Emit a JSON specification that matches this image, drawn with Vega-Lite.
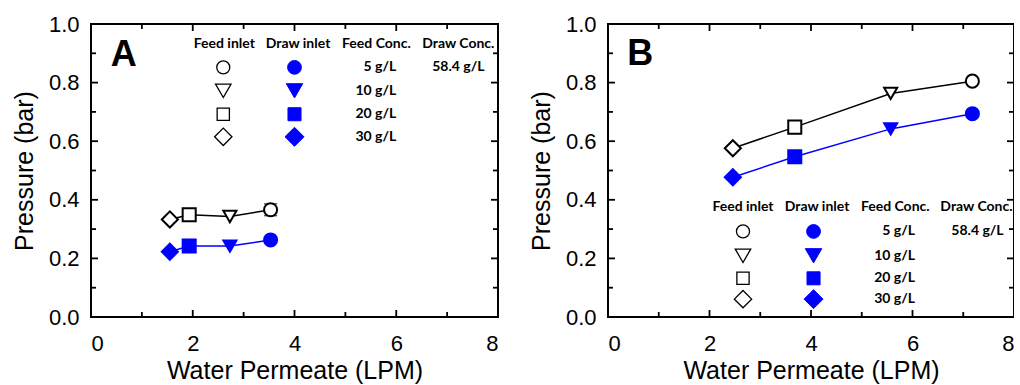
{
  "$schema": "https://vega.github.io/schema/vega-lite/v6.json",
  "background": "white",
  "padding": {"left": 11, "top": 12, "right": -2, "bottom": 0},
  "spacing": 28,
  "config": {
    "view": {"stroke": "black", "strokeWidth": 2},
    "axis": {
      "domain": false, "grid": false, "ticks": false, "tickSize": 0,
      "labelFont": "Liberation Sans", "labelFontSize": 22, "labelColor": "black", "labelOverlap": false,
      "titleFont": "Liberation Sans", "titleFontSize": 25, "titleFontWeight": "normal", "titleColor": "black"
    },
    "rule": {"color": "black", "strokeWidth": 1.8},
    "text": {"font": "Lato", "fontWeight": "bold", "fontSize": 14, "color": "black", "baseline": "middle"}
  },
  "datasets": {
    "pts": [
      {"panel": "A", "stream": "feed", "conc": 30, "x": 1.55, "y": 0.333, "err": 0},
      {"panel": "A", "stream": "feed", "conc": 20, "x": 1.93, "y": 0.349, "err": 0},
      {"panel": "A", "stream": "feed", "conc": 10, "x": 2.73, "y": 0.343, "err": 0},
      {"panel": "A", "stream": "feed", "conc": 5, "x": 3.53, "y": 0.366, "err": 0.02},
      {"panel": "A", "stream": "draw", "conc": 30, "x": 1.55, "y": 0.223, "err": 0},
      {"panel": "A", "stream": "draw", "conc": 20, "x": 1.93, "y": 0.242, "err": 0},
      {"panel": "A", "stream": "draw", "conc": 10, "x": 2.73, "y": 0.242, "err": 0},
      {"panel": "A", "stream": "draw", "conc": 5, "x": 3.53, "y": 0.263, "err": 0},
      {"panel": "B", "stream": "feed", "conc": 30, "x": 2.46, "y": 0.576, "err": 0},
      {"panel": "B", "stream": "feed", "conc": 20, "x": 3.68, "y": 0.648, "err": 0},
      {"panel": "B", "stream": "feed", "conc": 10, "x": 5.57, "y": 0.763, "err": 0},
      {"panel": "B", "stream": "feed", "conc": 5, "x": 7.18, "y": 0.805, "err": 0},
      {"panel": "B", "stream": "draw", "conc": 30, "x": 2.46, "y": 0.477, "err": 0},
      {"panel": "B", "stream": "draw", "conc": 20, "x": 3.68, "y": 0.547, "err": 0},
      {"panel": "B", "stream": "draw", "conc": 10, "x": 5.57, "y": 0.642, "err": 0},
      {"panel": "B", "stream": "draw", "conc": 5, "x": 7.18, "y": 0.694, "err": 0}
    ],
    "xticks": [
      {"v": 1, "m": 0}, {"v": 2, "m": 1}, {"v": 3, "m": 0}, {"v": 4, "m": 1},
      {"v": 5, "m": 0}, {"v": 6, "m": 1}, {"v": 7, "m": 0}
    ],
    "yticks": [
      {"v": 0.1, "m": 0}, {"v": 0.2, "m": 1}, {"v": 0.3, "m": 0}, {"v": 0.4, "m": 1}, {"v": 0.5, "m": 0},
      {"v": 0.6, "m": 1}, {"v": 0.7, "m": 0}, {"v": 0.8, "m": 1}, {"v": 0.9, "m": 0}
    ]
  },
  "hconcat": [
    {
      "width": 407, "height": 293,
      "resolve": {"axis": {"x": "independent", "y": "independent"}},
      "layer": [
        {
          "data": {"name": "pts"},
          "transform": [{"filter": "datum.panel === 'A'"}],
          "mark": {"type": "line", "strokeWidth": 1.5},
          "encoding": {
            "x": {"field": "x", "type": "quantitative", "scale": {"domain": [0, 8], "nice": false},
              "axis": {"orient": "bottom", "values": [0,2,4,6,8], "labelPadding": 16, "title": "Water Permeate (LPM)", "titlePadding": 4}},
            "y": {"field": "y", "type": "quantitative", "scale": {"domain": [0, 1], "nice": false},
              "axis": {"orient": "left", "values": [0,0.2,0.4,0.6,0.8,1.0], "format": ".1f", "labelPadding": 12, "title": "Pressure (bar)", "titlePadding": 11}},
            "color": {"field": "stream", "type": "nominal", "scale": {"domain": ["feed", "draw"], "range": ["#000000", "#0000ff"]}, "legend": null},
            "order": {"field": "x", "type": "quantitative"}
          }
        },
        {
          "data": {"name": "xticks"},
          "layer": [
            {"transform": [{"filter": "datum.m === 1"}], "mark": "rule",
             "encoding": {"x": {"field": "v", "type": "quantitative", "axis": null}, "y": {"datum": 0, "type": "quantitative", "axis": null}, "y2": {"datum": 0.0239}}},
            {"transform": [{"filter": "datum.m === 0"}], "mark": "rule",
             "encoding": {"x": {"field": "v", "type": "quantitative", "axis": null}, "y": {"datum": 0, "type": "quantitative", "axis": null}, "y2": {"datum": 0.0171}}},
            {"transform": [{"filter": "datum.m === 1"}], "mark": "rule",
             "encoding": {"x": {"field": "v", "type": "quantitative", "axis": null}, "y": {"datum": 1, "type": "quantitative", "axis": null}, "y2": {"datum": 0.9761}}},
            {"transform": [{"filter": "datum.m === 0"}], "mark": "rule",
             "encoding": {"x": {"field": "v", "type": "quantitative", "axis": null}, "y": {"datum": 1, "type": "quantitative", "axis": null}, "y2": {"datum": 0.9829}}}
          ]
        },
        {
          "data": {"name": "yticks"},
          "layer": [
            {"transform": [{"filter": "datum.m === 1"}], "mark": "rule",
             "encoding": {"y": {"field": "v", "type": "quantitative", "axis": null}, "x": {"datum": 0, "type": "quantitative", "axis": null}, "x2": {"datum": 0.1375}}},
            {"transform": [{"filter": "datum.m === 0"}], "mark": "rule",
             "encoding": {"y": {"field": "v", "type": "quantitative", "axis": null}, "x": {"datum": 0, "type": "quantitative", "axis": null}, "x2": {"datum": 0.098}}},
            {"transform": [{"filter": "datum.m === 1"}], "mark": "rule",
             "encoding": {"y": {"field": "v", "type": "quantitative", "axis": null}, "x": {"datum": 8, "type": "quantitative", "axis": null}, "x2": {"datum": 7.8625}}},
            {"transform": [{"filter": "datum.m === 0"}], "mark": "rule",
             "encoding": {"y": {"field": "v", "type": "quantitative", "axis": null}, "x": {"datum": 8, "type": "quantitative", "axis": null}, "x2": {"datum": 7.902}}}
          ]
        },
        {
          "data": {"name": "pts"},
          "transform": [{"filter": "datum.panel === 'A' && datum.err > 0"}],
          "mark": {"type": "errorbar", "color": "black", "thickness": 1.5, "ticks": {"size": 13, "thickness": 1.5, "color": "black"}},
          "encoding": {
            "x": {"field": "x", "type": "quantitative", "axis": null},
            "y": {"field": "y", "type": "quantitative", "axis": null},
            "yError": {"field": "err"}
          }
        },
        {
          "data": {"name": "pts"},
          "transform": [{"filter": "datum.panel === 'A' && datum.conc !== 30"}],
          "mark": {"type": "point", "filled": true, "opacity": 1, "strokeWidth": 2, "size": 170},
          "encoding": {
            "x": {"field": "x", "type": "quantitative", "axis": null},
            "y": {"field": "y", "type": "quantitative", "axis": null},
            "shape": {"field": "conc", "type": "nominal", "scale": {"domain": [5, 10, 20, 30], "range": ["circle", "triangle-down", "square", "diamond"]}, "legend": null},
            "fill": {"field": "stream", "type": "nominal", "scale": {"domain": ["feed", "draw"], "range": ["#ffffff", "#0000ff"]}, "legend": null},
            "stroke": {"field": "stream", "type": "nominal", "scale": {"domain": ["feed", "draw"], "range": ["#000000", "#0000ff"]}, "legend": null}
          }
        },
        {
          "data": {"name": "pts"},
          "transform": [{"filter": "datum.panel === 'A' && datum.conc === 30"}],
          "mark": {"type": "point", "filled": true, "opacity": 1, "strokeWidth": 2, "size": 260},
          "encoding": {
            "x": {"field": "x", "type": "quantitative", "axis": null},
            "y": {"field": "y", "type": "quantitative", "axis": null},
            "shape": {"field": "conc", "type": "nominal", "legend": null},
            "fill": {"field": "stream", "type": "nominal", "legend": null},
            "stroke": {"field": "stream", "type": "nominal", "legend": null}
          }
        },
        {
          "data": {"values": [{}]},
          "layer": [
            {"mark": {"type": "text", "text": "A", "font": "Liberation Sans", "fontSize": 36, "fontWeight": "bold", "align": "left", "baseline": "alphabetic"},
             "encoding": {"x": {"datum": 0.39, "type": "quantitative", "axis": null}, "y": {"datum": 0.857, "type": "quantitative", "axis": null}}},
            {"mark": {"type": "text", "text": "Feed inlet", "align": "center"},
             "encoding": {"x": {"datum": 2.62, "type": "quantitative", "axis": null}, "y": {"datum": 0.933, "type": "quantitative", "axis": null}}},
            {"mark": {"type": "text", "text": "Draw inlet", "align": "center"},
             "encoding": {"x": {"datum": 4.07, "type": "quantitative", "axis": null}, "y": {"datum": 0.933, "type": "quantitative", "axis": null}}},
            {"mark": {"type": "text", "text": "Feed Conc.", "align": "center"},
             "encoding": {"x": {"datum": 5.61, "type": "quantitative", "axis": null}, "y": {"datum": 0.933, "type": "quantitative", "axis": null}}},
            {"mark": {"type": "text", "text": "Draw Conc.", "align": "center"},
             "encoding": {"x": {"datum": 7.22, "type": "quantitative", "axis": null}, "y": {"datum": 0.933, "type": "quantitative", "axis": null}}},
            {"mark": {"type": "text", "text": "5 g/L", "align": "right"},
             "encoding": {"x": {"datum": 6.0, "type": "quantitative", "axis": null}, "y": {"datum": 0.852, "type": "quantitative", "axis": null}}},
            {"mark": {"type": "text", "text": "10 g/L", "align": "right"},
             "encoding": {"x": {"datum": 6.0, "type": "quantitative", "axis": null}, "y": {"datum": 0.772, "type": "quantitative", "axis": null}}},
            {"mark": {"type": "text", "text": "20 g/L", "align": "right"},
             "encoding": {"x": {"datum": 6.0, "type": "quantitative", "axis": null}, "y": {"datum": 0.692, "type": "quantitative", "axis": null}}},
            {"mark": {"type": "text", "text": "30 g/L", "align": "right"},
             "encoding": {"x": {"datum": 6.0, "type": "quantitative", "axis": null}, "y": {"datum": 0.615, "type": "quantitative", "axis": null}}},
            {"mark": {"type": "text", "text": "58.4 g/L", "align": "center"},
             "encoding": {"x": {"datum": 7.22, "type": "quantitative", "axis": null}, "y": {"datum": 0.852, "type": "quantitative", "axis": null}}},
            {"mark": {"type": "point", "shape": "circle", "size": 170, "filled": false, "stroke": "black", "strokeWidth": 1.3, "opacity": 1},
             "encoding": {"x": {"datum": 2.6, "type": "quantitative", "axis": null}, "y": {"datum": 0.852, "type": "quantitative", "axis": null}}},
            {"mark": {"type": "point", "shape": "triangle-down", "size": 240, "filled": false, "stroke": "black", "strokeWidth": 1.3, "opacity": 1},
             "encoding": {"x": {"datum": 2.6, "type": "quantitative", "axis": null}, "y": {"datum": 0.772, "type": "quantitative", "axis": null}}},
            {"mark": {"type": "point", "shape": "square", "size": 150, "filled": false, "stroke": "black", "strokeWidth": 1.3, "opacity": 1},
             "encoding": {"x": {"datum": 2.6, "type": "quantitative", "axis": null}, "y": {"datum": 0.692, "type": "quantitative", "axis": null}}},
            {"mark": {"type": "point", "shape": "diamond", "size": 300, "filled": false, "stroke": "black", "strokeWidth": 1.3, "opacity": 1},
             "encoding": {"x": {"datum": 2.6, "type": "quantitative", "axis": null}, "y": {"datum": 0.615, "type": "quantitative", "axis": null}}},
            {"mark": {"type": "point", "shape": "circle", "size": 190, "filled": true, "fill": "#0000ff", "stroke": "#0000ff", "strokeWidth": 1, "opacity": 1},
             "encoding": {"x": {"datum": 4.0, "type": "quantitative", "axis": null}, "y": {"datum": 0.852, "type": "quantitative", "axis": null}}},
            {"mark": {"type": "point", "shape": "triangle-down", "size": 270, "filled": true, "fill": "#0000ff", "stroke": "#0000ff", "strokeWidth": 1, "opacity": 1},
             "encoding": {"x": {"datum": 4.0, "type": "quantitative", "axis": null}, "y": {"datum": 0.772, "type": "quantitative", "axis": null}}},
            {"mark": {"type": "point", "shape": "square", "size": 170, "filled": true, "fill": "#0000ff", "stroke": "#0000ff", "strokeWidth": 1, "opacity": 1},
             "encoding": {"x": {"datum": 4.0, "type": "quantitative", "axis": null}, "y": {"datum": 0.692, "type": "quantitative", "axis": null}}},
            {"mark": {"type": "point", "shape": "diamond", "size": 360, "filled": true, "fill": "#0000ff", "stroke": "#0000ff", "strokeWidth": 1, "opacity": 1},
             "encoding": {"x": {"datum": 4.0, "type": "quantitative", "axis": null}, "y": {"datum": 0.615, "type": "quantitative", "axis": null}}}
          ]
        }
      ]
    },
    {
      "width": 406, "height": 293,
      "resolve": {"axis": {"x": "independent", "y": "independent"}},
      "layer": [
        {
          "data": {"name": "pts"},
          "transform": [{"filter": "datum.panel === 'B'"}],
          "mark": {"type": "line", "strokeWidth": 1.5},
          "encoding": {
            "x": {"field": "x", "type": "quantitative", "scale": {"domain": [0, 8], "nice": false},
              "axis": {"orient": "bottom", "values": [0,2,4,6,8], "labelPadding": 16, "title": "Water Permeate (LPM)", "titlePadding": 4}},
            "y": {"field": "y", "type": "quantitative", "scale": {"domain": [0, 1], "nice": false},
              "axis": {"orient": "left", "values": [0,0.2,0.4,0.6,0.8,1.0], "format": ".1f", "labelPadding": 12, "title": "Pressure (bar)", "titlePadding": 11}},
            "color": {"field": "stream", "type": "nominal", "scale": {"domain": ["feed", "draw"], "range": ["#000000", "#0000ff"]}, "legend": null},
            "order": {"field": "x", "type": "quantitative"}
          }
        },
        {
          "data": {"name": "xticks"},
          "layer": [
            {"transform": [{"filter": "datum.m === 1"}], "mark": "rule",
             "encoding": {"x": {"field": "v", "type": "quantitative", "axis": null}, "y": {"datum": 0, "type": "quantitative", "axis": null}, "y2": {"datum": 0.0239}}},
            {"transform": [{"filter": "datum.m === 0"}], "mark": "rule",
             "encoding": {"x": {"field": "v", "type": "quantitative", "axis": null}, "y": {"datum": 0, "type": "quantitative", "axis": null}, "y2": {"datum": 0.0171}}},
            {"transform": [{"filter": "datum.m === 1"}], "mark": "rule",
             "encoding": {"x": {"field": "v", "type": "quantitative", "axis": null}, "y": {"datum": 1, "type": "quantitative", "axis": null}, "y2": {"datum": 0.9761}}},
            {"transform": [{"filter": "datum.m === 0"}], "mark": "rule",
             "encoding": {"x": {"field": "v", "type": "quantitative", "axis": null}, "y": {"datum": 1, "type": "quantitative", "axis": null}, "y2": {"datum": 0.9829}}}
          ]
        },
        {
          "data": {"name": "yticks"},
          "layer": [
            {"transform": [{"filter": "datum.m === 1"}], "mark": "rule",
             "encoding": {"y": {"field": "v", "type": "quantitative", "axis": null}, "x": {"datum": 0, "type": "quantitative", "axis": null}, "x2": {"datum": 0.1375}}},
            {"transform": [{"filter": "datum.m === 0"}], "mark": "rule",
             "encoding": {"y": {"field": "v", "type": "quantitative", "axis": null}, "x": {"datum": 0, "type": "quantitative", "axis": null}, "x2": {"datum": 0.098}}},
            {"transform": [{"filter": "datum.m === 1"}], "mark": "rule",
             "encoding": {"y": {"field": "v", "type": "quantitative", "axis": null}, "x": {"datum": 8, "type": "quantitative", "axis": null}, "x2": {"datum": 7.8625}}},
            {"transform": [{"filter": "datum.m === 0"}], "mark": "rule",
             "encoding": {"y": {"field": "v", "type": "quantitative", "axis": null}, "x": {"datum": 8, "type": "quantitative", "axis": null}, "x2": {"datum": 7.902}}}
          ]
        },
        {
          "data": {"name": "pts"},
          "transform": [{"filter": "datum.panel === 'B' && datum.conc !== 30"}],
          "mark": {"type": "point", "filled": true, "opacity": 1, "strokeWidth": 2, "size": 170},
          "encoding": {
            "x": {"field": "x", "type": "quantitative", "axis": null},
            "y": {"field": "y", "type": "quantitative", "axis": null},
            "shape": {"field": "conc", "type": "nominal", "scale": {"domain": [5, 10, 20, 30], "range": ["circle", "triangle-down", "square", "diamond"]}, "legend": null},
            "fill": {"field": "stream", "type": "nominal", "scale": {"domain": ["feed", "draw"], "range": ["#ffffff", "#0000ff"]}, "legend": null},
            "stroke": {"field": "stream", "type": "nominal", "scale": {"domain": ["feed", "draw"], "range": ["#000000", "#0000ff"]}, "legend": null}
          }
        },
        {
          "data": {"name": "pts"},
          "transform": [{"filter": "datum.panel === 'B' && datum.conc === 30"}],
          "mark": {"type": "point", "filled": true, "opacity": 1, "strokeWidth": 2, "size": 260},
          "encoding": {
            "x": {"field": "x", "type": "quantitative", "axis": null},
            "y": {"field": "y", "type": "quantitative", "axis": null},
            "shape": {"field": "conc", "type": "nominal", "legend": null},
            "fill": {"field": "stream", "type": "nominal", "legend": null},
            "stroke": {"field": "stream", "type": "nominal", "legend": null}
          }
        },
        {
          "data": {"values": [{}]},
          "layer": [
            {"mark": {"type": "text", "text": "B", "font": "Liberation Sans", "fontSize": 36, "fontWeight": "bold", "align": "left", "baseline": "alphabetic"},
             "encoding": {"x": {"datum": 0.38, "type": "quantitative", "axis": null}, "y": {"datum": 0.86, "type": "quantitative", "axis": null}}},
            {"mark": {"type": "text", "text": "Feed inlet", "align": "center"},
             "encoding": {"x": {"datum": 2.66, "type": "quantitative", "axis": null}, "y": {"datum": 0.377, "type": "quantitative", "axis": null}}},
            {"mark": {"type": "text", "text": "Draw inlet", "align": "center"},
             "encoding": {"x": {"datum": 4.12, "type": "quantitative", "axis": null}, "y": {"datum": 0.377, "type": "quantitative", "axis": null}}},
            {"mark": {"type": "text", "text": "Feed Conc.", "align": "center"},
             "encoding": {"x": {"datum": 5.66, "type": "quantitative", "axis": null}, "y": {"datum": 0.377, "type": "quantitative", "axis": null}}},
            {"mark": {"type": "text", "text": "Draw Conc.", "align": "center"},
             "encoding": {"x": {"datum": 7.26, "type": "quantitative", "axis": null}, "y": {"datum": 0.377, "type": "quantitative", "axis": null}}},
            {"mark": {"type": "text", "text": "5 g/L", "align": "right"},
             "encoding": {"x": {"datum": 6.05, "type": "quantitative", "axis": null}, "y": {"datum": 0.292, "type": "quantitative", "axis": null}}},
            {"mark": {"type": "text", "text": "10 g/L", "align": "right"},
             "encoding": {"x": {"datum": 6.05, "type": "quantitative", "axis": null}, "y": {"datum": 0.209, "type": "quantitative", "axis": null}}},
            {"mark": {"type": "text", "text": "20 g/L", "align": "right"},
             "encoding": {"x": {"datum": 6.05, "type": "quantitative", "axis": null}, "y": {"datum": 0.132, "type": "quantitative", "axis": null}}},
            {"mark": {"type": "text", "text": "30 g/L", "align": "right"},
             "encoding": {"x": {"datum": 6.05, "type": "quantitative", "axis": null}, "y": {"datum": 0.061, "type": "quantitative", "axis": null}}},
            {"mark": {"type": "text", "text": "58.4 g/L", "align": "center"},
             "encoding": {"x": {"datum": 7.28, "type": "quantitative", "axis": null}, "y": {"datum": 0.292, "type": "quantitative", "axis": null}}},
            {"mark": {"type": "point", "shape": "circle", "size": 170, "filled": false, "stroke": "black", "strokeWidth": 1.3, "opacity": 1},
             "encoding": {"x": {"datum": 2.66, "type": "quantitative", "axis": null}, "y": {"datum": 0.292, "type": "quantitative", "axis": null}}},
            {"mark": {"type": "point", "shape": "triangle-down", "size": 240, "filled": false, "stroke": "black", "strokeWidth": 1.3, "opacity": 1},
             "encoding": {"x": {"datum": 2.66, "type": "quantitative", "axis": null}, "y": {"datum": 0.209, "type": "quantitative", "axis": null}}},
            {"mark": {"type": "point", "shape": "square", "size": 150, "filled": false, "stroke": "black", "strokeWidth": 1.3, "opacity": 1},
             "encoding": {"x": {"datum": 2.66, "type": "quantitative", "axis": null}, "y": {"datum": 0.132, "type": "quantitative", "axis": null}}},
            {"mark": {"type": "point", "shape": "diamond", "size": 300, "filled": false, "stroke": "black", "strokeWidth": 1.3, "opacity": 1},
             "encoding": {"x": {"datum": 2.66, "type": "quantitative", "axis": null}, "y": {"datum": 0.061, "type": "quantitative", "axis": null}}},
            {"mark": {"type": "point", "shape": "circle", "size": 190, "filled": true, "fill": "#0000ff", "stroke": "#0000ff", "strokeWidth": 1, "opacity": 1},
             "encoding": {"x": {"datum": 4.05, "type": "quantitative", "axis": null}, "y": {"datum": 0.292, "type": "quantitative", "axis": null}}},
            {"mark": {"type": "point", "shape": "triangle-down", "size": 270, "filled": true, "fill": "#0000ff", "stroke": "#0000ff", "strokeWidth": 1, "opacity": 1},
             "encoding": {"x": {"datum": 4.05, "type": "quantitative", "axis": null}, "y": {"datum": 0.209, "type": "quantitative", "axis": null}}},
            {"mark": {"type": "point", "shape": "square", "size": 170, "filled": true, "fill": "#0000ff", "stroke": "#0000ff", "strokeWidth": 1, "opacity": 1},
             "encoding": {"x": {"datum": 4.05, "type": "quantitative", "axis": null}, "y": {"datum": 0.132, "type": "quantitative", "axis": null}}},
            {"mark": {"type": "point", "shape": "diamond", "size": 360, "filled": true, "fill": "#0000ff", "stroke": "#0000ff", "strokeWidth": 1, "opacity": 1},
             "encoding": {"x": {"datum": 4.05, "type": "quantitative", "axis": null}, "y": {"datum": 0.061, "type": "quantitative", "axis": null}}}
          ]
        }
      ]
    }
  ]
}
